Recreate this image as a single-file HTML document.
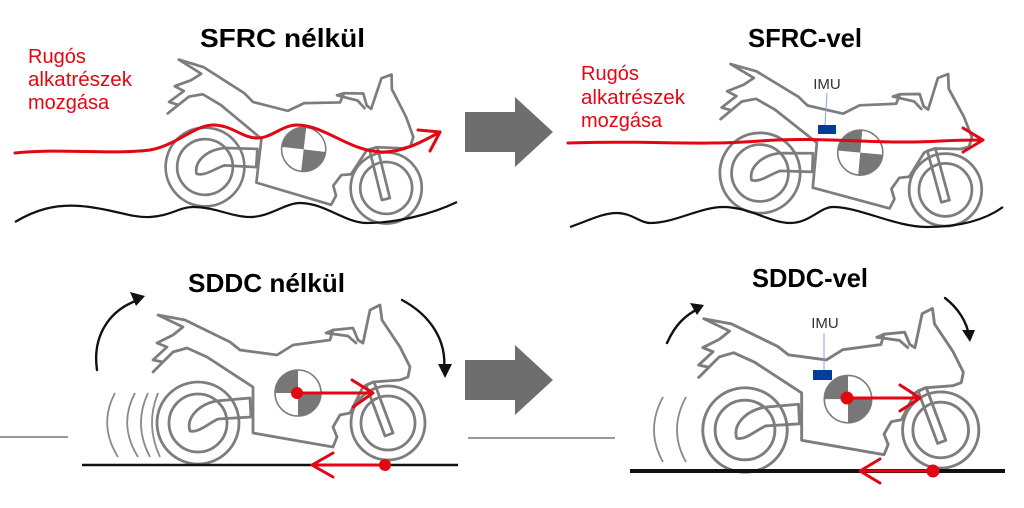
<!DOCTYPE html>
<html><head><meta charset="utf-8"><style>
html,body{margin:0;padding:0;background:#fff;}
svg{display:block;}
text{font-family:"Liberation Sans",sans-serif;}
</style></head><body>
<svg width="1024" height="508" viewBox="0 0 1024 508" xmlns="http://www.w3.org/2000/svg">
<defs>
<g id="bike" fill="none" stroke="#7d7d7d" stroke-width="2.8" stroke-linejoin="round" stroke-linecap="round">
  <path d="M-40,-108 L-13,-103 L32,-81 L42,-73 L79,-68 L95,-78 L132,-83 L135,-93 L155,-95 L160,-83 L165,-80 L172,-113 L182,-118 L184,-103 L202,-76 L212,-56 L210,-46 L202,-43 L175,-41 L165,-36 L152,-10 L142,-8 L135,4 L139,14 L135,24 L55,10 L55,-3 L55,-36 L9,-66 L-11,-75 L-25,-71 L-45,-51 L-35,-61 L-45,-63 L-31,-76 L-41,-80 L-25,-88 L-15,-96 Z"/>
  <path d="M135,-93 L128,-90 L150,-87 L158,-80"/>
  <path d="M-8,8 C-12,-5 0,-18 18,-22 L52,-25 L53,-6 L20,-4 C8,2 0,10 -8,8 Z"/>
  <circle cx="0" cy="0" r="41"/>
  <circle cx="0" cy="0" r="29"/>
  <circle cx="190" cy="0" r="37"/>
  <circle cx="190" cy="0" r="27"/>
  <path d="M168,-38 L176,-41 L195,10 L187,13 Z"/>
  <g transform="translate(100,-30)">
    <circle r="23" fill="#fff" stroke="#7d7d7d" stroke-width="1.6"/>
    <path d="M0,0 L-23,0 A23,23 0 0 1 0,-23 Z" fill="#777" stroke="none"/>
    <path d="M0,0 L23,0 A23,23 0 0 1 0,23 Z" fill="#777" stroke="none"/>
  </g>
</g>
</defs>

<text x="200" y="47" font-size="26" font-weight="bold" textLength="165" lengthAdjust="spacingAndGlyphs">SFRC nélkül</text>
<text x="748" y="47" font-size="26" font-weight="bold" textLength="114" lengthAdjust="spacingAndGlyphs">SFRC-vel</text>
<text x="188" y="292" font-size="26" font-weight="bold" textLength="157" lengthAdjust="spacingAndGlyphs">SDDC nélkül</text>
<text x="752" y="287" font-size="26" font-weight="bold" textLength="116" lengthAdjust="spacingAndGlyphs">SDDC-vel</text>

<g fill="#e30613" font-size="20">
<text x="28" y="63">Rugós</text><text x="28" y="86" textLength="104" lengthAdjust="spacingAndGlyphs">alkatrészek</text><text x="28" y="109">mozgása</text>
<text x="581" y="80">Rugós</text><text x="581" y="104" textLength="104" lengthAdjust="spacingAndGlyphs">alkatrészek</text><text x="581" y="127">mozgása</text>
</g>

<use href="#bike" transform="translate(205,167) rotate(6.6) scale(0.96)"/>
<use href="#bike" transform="translate(760,173) rotate(5.2) scale(0.98)"/>
<use href="#bike" transform="translate(198,423)"/>
<use href="#bike" transform="translate(745,430) scale(1.03)"/>

<path d="M15,222 C35,210 55,204 80,206 C110,208 130,218 150,217 C170,216 180,207 193,207 C215,207 232,217 250,217 C270,217 285,203 300,203 C325,203 345,223 367,223 C395,223 430,215 457,202" fill="none" stroke="#111" stroke-width="2.2"/>
<path d="M570,227 C590,220 603,213 617,213 C632,213 640,223 650,223 C675,223 700,207 723,207 C750,207 770,223 790,223 C810,223 820,207 833,207 C860,207 895,227 927,227 C960,227 985,220 1003,207" fill="none" stroke="#111" stroke-width="2.2"/>

<g fill="none" stroke="#e30613" stroke-width="3" stroke-linecap="round" stroke-linejoin="round">
<path d="M15,153 C60,148 110,155 150,150 C175,146 195,125 213,125 C232,125 242,138 257,138 C272,138 282,125 297,125 C325,125 350,152 383,152 C405,152 425,140 440,132"/>
<path d="M418,130 L440,132 L430,151"/>
<path d="M568,143 C640,140 700,146 760,141 C820,136 880,145 940,141 C960,140 975,140 983,140"/>
<path d="M963,128 L983,140 L963,152"/>
</g>

<g font-size="15" fill="#333" text-anchor="middle">
<text x="827" y="89">IMU</text><text x="825" y="328">IMU</text>
</g>
<line x1="827" y1="93" x2="825" y2="125" stroke="#7fa8d8" stroke-width="1"/>
<rect x="818" y="125" width="18" height="9" fill="#003e99"/>
<line x1="824" y1="333" x2="824" y2="370" stroke="#7fa8d8" stroke-width="1"/>
<rect x="813" y="370" width="19" height="10" fill="#003e99"/>

<path d="M465,112 L515,112 L515,97 L553,132 L515,167 L515,152 L465,152 Z" fill="#6e6e6e"/>
<path d="M465,360 L515,360 L515,345 L553,380 L515,415 L515,400 L465,400 Z" fill="#6e6e6e"/>

<line x1="0" y1="437" x2="68" y2="437" stroke="#777" stroke-width="1.5"/>
<line x1="468" y1="438" x2="615" y2="438" stroke="#777" stroke-width="1.5"/>

<line x1="82" y1="465" x2="458" y2="465" stroke="#111" stroke-width="2.6"/>
<line x1="630" y1="471" x2="1005" y2="471" stroke="#111" stroke-width="4"/>

<g fill="none" stroke="#111" stroke-width="2.4" stroke-linecap="round">
<path d="M97,370 C92,335 110,310 138,300"/>
<path d="M402,300 C430,315 447,340 444,370"/>
<path d="M667,343 C675,325 685,315 700,308"/>
<path d="M945,298 C958,308 967,322 969,336"/>
</g>
<g fill="#111">
<path d="M145,296 L130,292 L136,306 Z"/>
<path d="M445,378 L438,364 L452,364 Z"/>
<path d="M704,305 L690,303 L697,315 Z"/>
<path d="M970,342 L962,330 L975,330 Z"/>
</g>

<g fill="none" stroke="#8a8a8a" stroke-width="1.8">
<path d="M115,393 Q98,425 118,457"/>
<path d="M135,393 Q118,425 138,457"/>
<path d="M148,393 Q133,425 150,457"/>
<path d="M158,393 Q145,425 160,457"/>
<path d="M663,397 Q645,430 663,462"/>
<path d="M686,397 Q668,430 686,462"/>
</g>

<g stroke="#e30613" stroke-width="3" fill="none" stroke-linecap="round" stroke-linejoin="round">
<line x1="297" y1="393" x2="372" y2="393"/><path d="M352,380 L373,393 L353,407"/>
<line x1="385" y1="465" x2="313" y2="465"/><path d="M333,453 L312,465 L333,477"/>
<line x1="847" y1="398" x2="918" y2="398"/><path d="M900,385 L920,398 L900,411"/>
<line x1="933" y1="471" x2="862" y2="471"/><path d="M880,459 L860,471 L880,483"/>
</g>
<g fill="#e30613">
<circle cx="297" cy="393" r="6"/><circle cx="385" cy="465" r="6"/>
<circle cx="847" cy="398" r="6.5"/><circle cx="933" cy="471" r="6.5"/>
</g>
</svg>
</body></html>
